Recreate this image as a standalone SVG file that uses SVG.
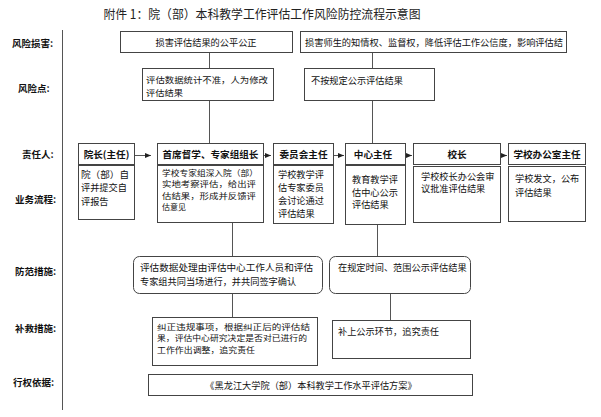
<svg xmlns="http://www.w3.org/2000/svg" width="601" height="417" viewBox="0 0 601 417">
<style>
.t{font-family:"Noto Sans CJK SC","Noto Sans",sans-serif;font-size:9.2px;fill:#111}
.s{font-size:8px}
.r{font-size:8.5px}
.b{font-weight:bold;font-size:9.6px}
.m{text-anchor:middle}
.lbl{font-family:"Noto Sans CJK SC","Noto Sans",sans-serif;font-size:9.5px;font-weight:bold;fill:#111}
.title{font-family:"Noto Sans CJK SC","Noto Sans",sans-serif;font-size:12.5px;fill:#222;text-anchor:middle}
.box{fill:#fff;stroke:#444;stroke-width:1}
.ln{stroke:#555;stroke-width:1;fill:none}
</style>
<defs>
<marker id="ah" markerWidth="6" markerHeight="5" refX="6" refY="2.5" orient="auto" markerUnits="userSpaceOnUse"><path d="M0,0 L6,2.5 L0,5z" fill="#222"/></marker>
</defs>
<rect width="601" height="417" fill="#fff"/>
<text class="title" x="262" y="18.5" textLength="317" lengthAdjust="spacingAndGlyphs">附件 1：院（部）本科教学工作评估工作风险防控流程示意图</text>

<g id="labels">
<text class="lbl" x="12" y="46.5">风险损害:</text>
<text class="lbl" x="18" y="91.5">风险点:</text>
<text class="lbl" x="22" y="157.5">责任人:</text>
<text class="lbl" x="15" y="203">业务流程:</text>
<text class="lbl" x="15" y="274.5">防范措施:</text>
<text class="lbl" x="15" y="331.5">补救措施:</text>
<text class="lbl" x="13" y="386">行权依据:</text>
</g>

<g id="connectors">
<line class="ln" x1="62.5" y1="30" x2="62.5" y2="410"/>
<line class="ln" x1="209.5" y1="52" x2="209.5" y2="68"/>
<line class="ln" x1="209.5" y1="100" x2="209.5" y2="143"/>
<line class="ln" x1="372.5" y1="52" x2="372.5" y2="68"/>
<line class="ln" x1="372.5" y1="100" x2="372.5" y2="143"/>
<line class="ln" x1="232.5" y1="222" x2="232.5" y2="256"/>
<line class="ln" x1="377.5" y1="224" x2="377.5" y2="256"/>
<line class="ln" x1="232.5" y1="293" x2="232.5" y2="317"/>
<line class="ln" x1="390.5" y1="293" x2="390.5" y2="320"/>
<line class="ln" x1="134" y1="155.5" x2="151" y2="155.5" marker-end="url(#ah)"/>
<line class="ln" x1="263" y1="155.5" x2="271" y2="155.5" marker-end="url(#ah)"/>
<line class="ln" x1="333" y1="155.5" x2="344" y2="155.5" marker-end="url(#ah)"/>
<line class="ln" x1="405" y1="155.5" x2="412" y2="155.5" marker-end="url(#ah)"/>
<line class="ln" x1="500" y1="155.5" x2="507" y2="155.5" marker-end="url(#ah)"/>
</g>

<g id="harm1"><rect class="box" x="120.5" y="31.5" width="172" height="21"/>
<text class="t m" x="206" y="45.5">损害评估结果的公平公正</text></g>
<g id="harm2"><rect class="box" x="300.5" y="31.5" width="266" height="21"/>
<text class="t" x="305" y="45.5" textLength="258" lengthAdjust="spacingAndGlyphs">损害师生的知情权、监督权，降低评估工作公信度，影响评估结</text></g>

<g id="risk1"><rect class="box" x="142.5" y="68.5" width="131" height="32"/>
<text class="t r" x="146" y="82.5" textLength="122" lengthAdjust="spacingAndGlyphs">评估数据统计不准，人为修改</text>
<text class="t r" x="146" y="95.5" textLength="37" lengthAdjust="spacingAndGlyphs">评估结果</text></g>
<g id="risk2"><rect class="box" x="304.5" y="68.5" width="130" height="32"/>
<text class="t" x="311" y="83.5">不按规定公示评估结果</text></g>

<g id="h1"><rect class="box" x="78.5" y="143.5" width="56" height="21"/>
<text class="t b m" x="106.5" y="157.5">院长(主任)</text></g>
<g id="h2"><rect class="box" x="157.5" y="143.5" width="106" height="21"/>
<text class="t b m" x="210.5" y="157.5">首席督学、专家组组长</text></g>
<g id="h3"><rect class="box" x="273.5" y="143.5" width="60" height="21"/>
<text class="t b m" x="303.5" y="157.5">委员会主任</text></g>
<g id="h4"><rect class="box" x="345.5" y="143.5" width="60" height="21"/>
<text class="t b m" x="373" y="157.5">中心主任</text></g>
<g id="h5"><rect class="box" x="413.5" y="143.5" width="87" height="21"/>
<text class="t b m" x="457" y="157.5">校长</text></g>
<g id="h6"><rect class="box" x="508.5" y="143.5" width="77" height="21"/>
<text class="t b m" x="547" y="157.5">学校办公室主任</text></g>

<g id="p1"><rect class="box" x="78.5" y="165.5" width="56" height="54"/>
<text class="t" x="81" y="177.5" textLength="48" lengthAdjust="spacingAndGlyphs">院（部）自</text>
<text class="t" x="81" y="191">评并提交自</text>
<text class="t" x="81" y="204.5">评报告</text></g>
<g id="p2"><rect class="box" x="157.5" y="165.5" width="106" height="57"/>
<text class="t s" x="162" y="175.5" textLength="96" lengthAdjust="spacingAndGlyphs">学校专家组深入院（部）</text>
<text class="t s" x="162" y="187" textLength="94" lengthAdjust="spacingAndGlyphs">实地考察评估，给出评</text>
<text class="t s" x="162" y="198.5" textLength="94" lengthAdjust="spacingAndGlyphs">估结果，形成并反馈评</text>
<text class="t s" x="162" y="210">估意见</text></g>
<g id="p3"><rect class="box" x="273.5" y="165.5" width="60" height="58"/>
<text class="t" x="278" y="177.5">学校教学评</text>
<text class="t" x="278" y="190.5">估专家委员</text>
<text class="t" x="278" y="203.5">会讨论通过</text>
<text class="t" x="278" y="216.5">评估结果</text></g>
<g id="p4"><rect class="box" x="345.5" y="165.5" width="60" height="59"/>
<text class="t" x="352" y="182.5">教育教学评</text>
<text class="t" x="352" y="195.5">估中心公示</text>
<text class="t" x="352" y="208">评估结果</text></g>
<g id="p5"><rect class="box" x="413.5" y="166.5" width="87" height="56"/>
<text class="t" x="421" y="179.5">学校校长办公会审</text>
<text class="t" x="421" y="192">议批准评估结果</text></g>
<g id="p6"><rect class="box" x="508.5" y="166.5" width="77" height="55"/>
<text class="t" x="515" y="181.5">学校发文，公布</text>
<text class="t" x="515" y="195.5">评估结果</text></g>

<g id="d1"><rect class="box" x="133.5" y="256.5" width="189" height="37" rx="6"/>
<text class="t" x="140" y="270.5" textLength="173" lengthAdjust="spacingAndGlyphs">评估数据处理由评估中心工作人员和评估</text>
<text class="t" x="140" y="284.5">专家组共同当场进行，并共同签字确认</text></g>
<g id="d2"><rect class="box" x="329.5" y="256.5" width="141" height="37" rx="6"/>
<text class="t" x="338" y="270.5">在规定时间、范围公示评估结果</text></g>

<g id="r1"><rect class="box" x="152.5" y="317.5" width="165" height="48"/>
<text class="t s" x="157" y="329.5" textLength="153" lengthAdjust="spacingAndGlyphs">纠正违规事项，根据纠正后的评估结</text>
<text class="t s" x="157" y="341.3" textLength="150" lengthAdjust="spacingAndGlyphs">果，评估中心研究决定是否对已进行的</text>
<text class="t s" x="157" y="353.1" textLength="98" lengthAdjust="spacingAndGlyphs">工作作出调整，追究责任</text></g>
<g id="r2"><rect class="box" x="332.5" y="320.5" width="138" height="38"/>
<text class="t" x="338" y="334.5">补上公示环节，追究责任</text></g>

<g id="basis"><rect class="box" x="148.5" y="374.5" width="324" height="21"/>
<text class="t m" x="311" y="388.5">《黑龙江大学院（部）本科教学工作水平评估方案》</text></g>
</svg>
